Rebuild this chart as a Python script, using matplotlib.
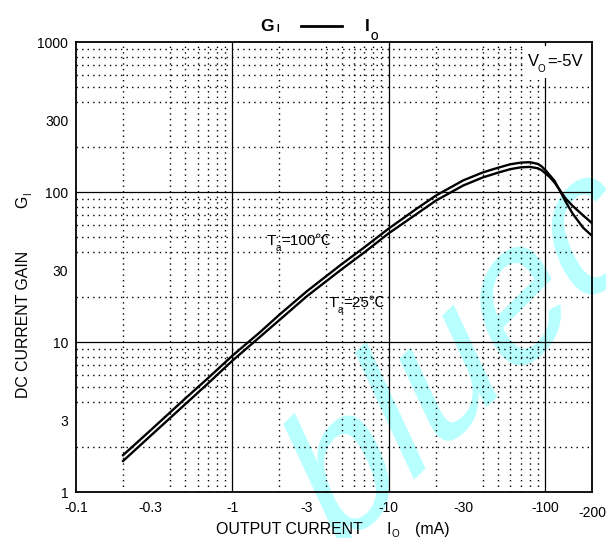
import matplotlib
matplotlib.use('Agg')
import matplotlib.pyplot as plt
from matplotlib.ticker import LogLocator, NullFormatter, FixedLocator, FixedFormatter
from matplotlib.textpath import TextPath
from matplotlib.font_manager import FontProperties
from matplotlib.patches import PathPatch, Rectangle
from matplotlib.transforms import Affine2D
from matplotlib.lines import Line2D

plt.rcParams['font.family'] = ['Liberation Sans', 'Noto Sans CJK SC', 'DejaVu Sans']

# ── data (|Io| in mA) ────────────────────────────────────────────────────────
io_ma = [0.2, 0.3, 0.5, 0.7, 1, 1.5, 2, 3, 5, 7, 10, 15, 20, 30, 40, 50,
         60, 70, 80, 90, 95, 100, 107, 115, 126, 135, 150, 175, 200]
gain_100c = [1.76, 2.58, 4.2, 5.75, 8.1, 11.6, 15.2, 21.8, 33.0, 42.8, 57, 77,
             94.5, 119.5, 135, 145, 153, 157, 158, 154, 148.5, 141, 130, 119,
             100, 87, 72, 58, 51]
gain_25c = [1.61, 2.37, 3.85, 5.3, 7.5, 10.8, 14.0, 20.2, 30.5, 39.6, 53, 71,
            87.5, 110.5, 125, 134.5, 142, 146, 147, 144, 140, 134, 126, 116,
            101, 91, 81, 70, 62]

x_ticks = [0.1, 0.3, 1, 3, 10, 30, 100]
x_labels = ['-0.1', '-0.3', '-1', '-3', '-10', '-30', '-100']
y_ticks = [1, 3, 10, 30, 100, 300, 1000]
y_labels = ['1', '3', '10', '30', '100', '300', '1000']

W, H = 606, 538
fig = plt.figure(figsize=(W / 100, H / 100), dpi=100)
fig.patch.set_facecolor('white')


def fx(x):
    return x / W


def fy(y):
    return 1 - y / H


# ── watermark (under everything) ─────────────────────────────────────────────
wm = TextPath((0, 0), 'bluec', size=182, prop=FontProperties(family='Liberation Sans'))
wm_tr = Affine2D().skew_deg(20, 0).rotate_deg(45).translate(334, -22)
fig.add_artist(PathPatch(wm, transform=wm_tr, fc='#b8ffff', ec='none', zorder=-5))

# ── axes ─────────────────────────────────────────────────────────────────────
ax = fig.add_axes([fx(76), fy(492), (592 - 76) / W, (492 - 42) / H])
ax.set_facecolor('none')
ax.set_xscale('log')
ax.set_yscale('log')
ax.set_xlim(0.1, 200)
ax.set_ylim(1, 1000)

ax.xaxis.set_major_locator(FixedLocator(x_ticks))
ax.xaxis.set_major_formatter(FixedFormatter(x_labels))
ax.yaxis.set_major_locator(FixedLocator(y_ticks))
ax.yaxis.set_major_formatter(FixedFormatter(y_labels))
for axis in (ax.xaxis, ax.yaxis):
    axis.set_minor_locator(LogLocator(base=10, subs=range(2, 10)))
    axis.set_minor_formatter(NullFormatter())

ax.tick_params(which='both', length=0, labelsize=10)
ax.tick_params(axis='x', pad=6.5)
ax.tick_params(axis='y', pad=5.5)

# decade lines solid, the rest dotted
ax.grid(False)
for v in [1, 10, 100]:
    ax.axvline(v, color='black', lw=0.9, zorder=1)
for v in [10, 100]:
    ax.axhline(v, color='black', lw=0.9, zorder=1)
ax.grid(which='minor', color='black', lw=1.0, ls=(0, (1, 3)))

for s in ax.spines.values():
    s.set_linewidth(1.3)

ax.plot(io_ma, gain_100c, color='black', lw=1.7, zorder=3)
ax.plot(io_ma, gain_25c, color='black', lw=1.7, zorder=3)

# white box behind the V_O note
ax.add_patch(Rectangle((0.866, 0.92), 0.128, 0.071, transform=ax.transAxes,
                       fc='white', ec='none', zorder=2))

# ── texts ────────────────────────────────────────────────────────────────────
def t(x, y, s, size, **kw):
    fig.text(fx(x), fy(y), s, fontsize=size, ha='left', va='baseline', **kw)


# title  G_I —— I_O
t(260, 31, 'G', 12.5, fontweight='bold')
t(276, 32, 'I', 7, fontweight='bold')
fig.add_artist(Line2D([fx(301), fx(342)], [fy(26), fy(26)], color='black', lw=2))
t(365, 31, 'I', 12.5, fontweight='bold')
t(371, 40, 'O', 7, fontweight='bold')

# V_O = -5V
t(528, 66, 'V', 12)
t(538, 72, 'O', 7)
t(547, 66, '=-5V', 12)

# temperature labels
t(267, 245, 'T', 11)
t(276, 251, 'a', 7)
t(281, 245, '=100℃', 11)
t(329, 307, 'T', 11)
t(338, 313, 'a', 7)
t(343, 307, '=25℃', 11)

# x label
t(216, 534, 'OUTPUT CURRENT', 11.4)
t(386, 534, 'I', 11.4)
t(391, 537, 'O', 7)
t(415, 534, '(mA)', 11.4)
fig.text(fx(592), fy(517), '-200', fontsize=10, ha='center', va='baseline')

# y label (rotated)
fig.text(fx(27.5), fy(398), 'DC CURRENT GAIN', fontsize=11.4, rotation=90,
         rotation_mode='anchor', ha='left', va='baseline')
fig.text(fx(27.5), fy(208), 'G', fontsize=11.4, rotation=90,
         rotation_mode='anchor', ha='left', va='baseline')
fig.text(fx(31), fy(195), 'I', fontsize=7, rotation=90,
         rotation_mode='anchor', ha='left', va='baseline')

fig.savefig('out.png', dpi=100, facecolor='white')
